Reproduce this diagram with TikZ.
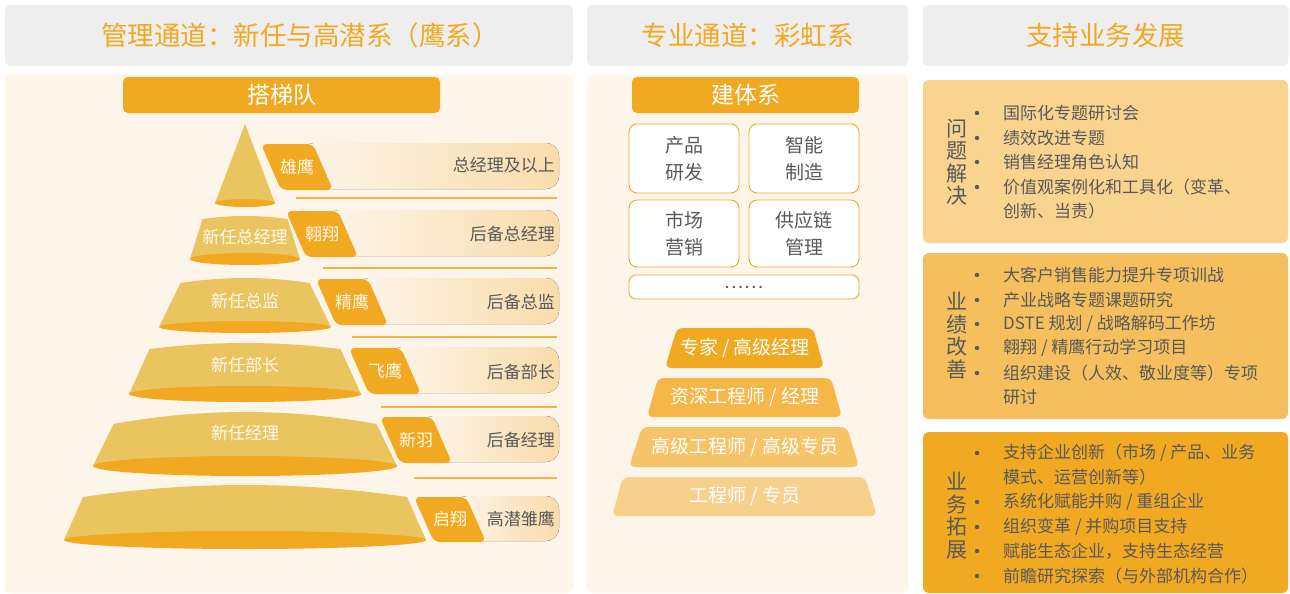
\documentclass[tikz,border=0pt]{standalone}
\usepackage{fontspec}
\setmainfont{Noto Sans CJK SC}
\definecolor{org}{HTML}{F2A922}
\definecolor{gold}{HTML}{EAC55F}
\definecolor{panel}{HTML}{FDF5E9}
\definecolor{hdrgray}{HTML}{EEEEEE}
\definecolor{barR}{HTML}{F9DCAB}
\definecolor{txtgray}{HTML}{595959}
\definecolor{lineorg}{HTML}{F4B445}
\definecolor{rA}{HTML}{F8D48F}
\definecolor{rB}{HTML}{F5BF5D}
\definecolor{rC}{HTML}{F2A922}
\definecolor{pA}{HTML}{F2A922}
\definecolor{pB}{HTML}{F4B748}
\definecolor{pC}{HTML}{F5C469}
\definecolor{pD}{HTML}{F7D18C}
\definecolor{tiertext}{HTML}{FFF9EC}
\newcommand\fsz[2]{\fontsize{#1}{#2}\selectfont}
\begin{document}
\begin{tikzpicture}[x=1pt,y=-1pt,
  hdr/.style={fill=hdrgray,rounded corners=6pt,minimum width=#1,minimum height=61pt,inner sep=0pt,text=org,font=\fsz{26.5}{26.5}},
  hdrtxt/.style={text=org,font=\fsz{26.5}{26.5},inner sep=0pt},
  panelbox/.style={fill=panel,rounded corners=6pt,inner sep=0pt},
  obar/.style={fill=org,rounded corners=5pt,minimum height=36pt,inner sep=0pt,text=white,font=\fsz{23}{23}},
  badgetxt/.style={text=tiertext,font=\fsz{17}{17},inner sep=0pt},
  bartxt/.style={text=txtgray,font=\fsz{17}{17},inner sep=0pt,anchor=east},
  tiertxt/.style={text=tiertext,font=\fsz{17}{17},inner sep=0pt},
  sepline/.style={draw=lineorg,line width=1.2pt},
  wbox/.style={fill=white,draw=org,line width=0.9pt,rounded corners=8pt,inner sep=0pt,text=txtgray,align=center,font=\fsz{19}{27}},
  rbtxt/.style={text=white,font=\fsz{19}{19},inner sep=0pt},
  rbox/.style={rounded corners=6pt,inner sep=0pt,minimum width=365pt},
  vlab/.style={text=txtgray,align=center,font=\fsz{21}{22.5},inner sep=0pt},
  item/.style={text=txtgray,font=\fsz{17}{17},inner sep=0pt,anchor=west},
  bul/.style={circle,fill=txtgray,inner sep=0pt,minimum size=4.4pt}
]
\useasboundingbox (0,0) rectangle (1290,594);
\fill[white] (0,0) rectangle (1290,594);

% ---------- headers ----------
\node[hdr=568pt] (h1) at (289,35.5) {};
\node[hdrtxt] (h1t) at (300,35.5) {管理通道：新任与高潜系（鹰系）};
\node[hdr=321pt] (h2) at (747.5,35.5) {专业通道：彩虹系};
\node[hdr=366pt] (h3) at (1105.5,35.5) {支持业务发展};

% ---------- panels ----------
\node[panelbox,minimum width=568pt,minimum height=518pt] (p1) at (289,334) {};
\node[panelbox,minimum width=321pt,minimum height=518pt] (p2) at (747.5,334) {};

% ---------- left: 搭梯队 ----------
\node[obar,minimum width=317pt] (dtd) at (281.5,95) {搭梯队};

% gradient bars
\foreach \x/\yt/\yb in {261/143/189, 286/210/256, 316/278/324, 349/347/393, 380/416/462, 414/496/541}
  \fill[left color=panel,right color=barR,rounded corners=13pt] (\x+40,\yt) rectangle (559,\yb);

% separator lines
\foreach \xs/\y in {296/198, 323/268, 352/337, 381/407, 414/478}
  \draw[sepline] (\xs,\y) -- (557,\y);

% badges
\foreach \x/\yt/\yb/\lab/\n in {261/144/190/雄鹰/1, 286/211/257/翱翔/2, 316/279/325/精鹰/3, 349/348/394/飞鹰/4, 380/417/463/新羽/5, 414/497/542/启翔/6}{
  \fill[org,rounded corners=6pt] (\x,\yt) -- (\x+52,\yt) -- (\x+72,\yb) -- (\x+20,\yb) -- cycle;
  \node[badgetxt] (bd\n) at (\x+36,{(\yt+\yb)/2}) {\lab};
}

% bar texts
\node[bartxt] (bt1) at (555,165) {总经理及以上};
\node[bartxt] (bt2) at (555,234) {后备总经理};
\node[bartxt] (bt3) at (555,302) {后备总监};
\node[bartxt] (bt4) at (555,372) {后备部长};
\node[bartxt] (bt5) at (555,440) {后备经理};
\node[bartxt] (bt6) at (555,519) {高潜雏鹰};

% pyramid: cone
\fill[gold] (245,124) -- (275,203) -- (215,203) -- cycle;
\fill[org] (245,203) ellipse [x radius=30, y radius=4];
% pyramid: frustums
\foreach \yt/\rise/\wt/\yb/\wb/\h in {219/3/42.5/259/55/6, 283/5/64.5/327/86/6, 349/6/95.5/394/116/8, 424/12/131.5/466/152/10, 497/12/162/540/181/9}{
  \fill[gold] (245-\wt,\yt) .. controls (245-\wt/3,\yt-\rise*4/3) and (245+\wt/3,\yt-\rise*4/3) .. (245+\wt,\yt) -- (245+\wb,\yb) -- (245-\wb,\yb) -- cycle;
  \fill[org] (245,\yb) ellipse [x radius=\wb, y radius=\h];
}
\node[tiertxt] (tt2) at (245,237) {新任总经理};
\node[tiertxt] (tt3) at (245,301) {新任总监};
\node[tiertxt] (tt4) at (245,365) {新任部长};
\node[tiertxt] (tt5) at (245,433) {新任经理};

% ---------- middle ----------
\node[obar,minimum width=227pt] (jtx) at (745.5,95) {建体系};
\node[wbox,minimum width=110pt,minimum height=69pt] (m1) at (684,158.5) {产品\\研发};
\node[wbox,minimum width=110pt,minimum height=69pt] (m2) at (804,158.5) {智能\\制造};
\node[wbox,minimum width=110pt,minimum height=67pt] (m3) at (684,233.5) {市场\\营销};
\node[wbox,minimum width=110pt,minimum height=67pt] (m4) at (804,233.5) {供应链\\管理};
\node[wbox,minimum width=230pt,minimum height=24pt,rounded corners=7pt,font=\fsz{18}{18}] (m5) at (744,287) {……};

\fill[pD,rounded corners=6pt] (623,477) -- (865,477) -- (877,516) -- (612,516) -- cycle;
\fill[pC,rounded corners=6pt] (642,427) -- (847,427) -- (859,467) -- (629,467) -- cycle;
\fill[pB,rounded corners=6pt] (658,378) -- (831,378) -- (842,417) -- (647,417) -- cycle;
\fill[pA,rounded corners=6pt] (677,328) -- (813,328) -- (824,368) -- (665,368) -- cycle;
\node[rbtxt] (rb1) at (745,348) {专家 / 高级经理};
\node[rbtxt] (rb2) at (745,397.5) {资深工程师 / 经理};
\node[rbtxt] (rb3) at (745,447) {高级工程师 / 高级专员};
\node[rbtxt] (rb4) at (745,496.5) {工程师 / 专员};

% ---------- right ----------
\node[rbox,fill=rA,minimum height=163pt] (r1) at (1105.5,161.5) {};
\node[rbox,fill=rB,minimum height=166pt] (r2) at (1105.5,336) {};
\node[rbox,fill=rC,minimum height=161pt] (r3) at (1105.5,512.5) {};

\node[vlab] (v1) at (957,162) {问\\题\\解\\决};
\node[vlab] (v2) at (957,335.5) {业\\绩\\改\\善};
\node[vlab] (v3) at (957,515.5) {业\\务\\拓\\展};

% box 1
\foreach \y/\n in {113/1,138/2,162/3,187/4} \node[bul] (ba\n) at (977,\y) {};
\node[item] (a1) at (1003,113) {国际化专题研讨会};
\node[item] (a2) at (1003,138) {绩效改进专题};
\node[item] (a3) at (1003,162) {销售经理角色认知};
\node[item] (a4) at (1003,187) {价值观案例化和工具化（变革、};
\node[item] (a5) at (1003,211) {创新、当责）};

% box 2
\foreach \y/\n in {275/1,300/2,324/3,348/4,373/5} \node[bul] (bb\n) at (977,\y) {};
\node[item] (b1) at (1003,275) {大客户销售能力提升专项训战};
\node[item] (b2) at (1003,300) {产业战略专题课题研究};
\node[item] (b3) at (1003,324) {DSTE 规划 / 战略解码工作坊};
\node[item] (b4) at (1003,348) {翱翔 / 精鹰行动学习项目};
\node[item] (b5) at (1003,373) {组织建设（人效、敬业度等）专项};
\node[item] (b6) at (1003,397) {研讨};

% box 3
\foreach \y/\n in {453/1,502/2,527/3,551/4,576/5} \node[bul] (bc\n) at (977,\y) {};
\node[item] (c1) at (1003,453) {支持企业创新（市场 / 产品、业务};
\node[item] (c2) at (1003,477) {模式、运营创新等）};
\node[item] (c3) at (1003,502) {系统化赋能并购 / 重组企业};
\node[item] (c4) at (1003,527) {组织变革 / 并购项目支持};
\node[item] (c5) at (1003,551) {赋能生态企业，支持生态经营};
\node[item] (c6) at (1003,576) {前瞻研究探索（与外部机构合作）};
\end{tikzpicture}
\end{document}
